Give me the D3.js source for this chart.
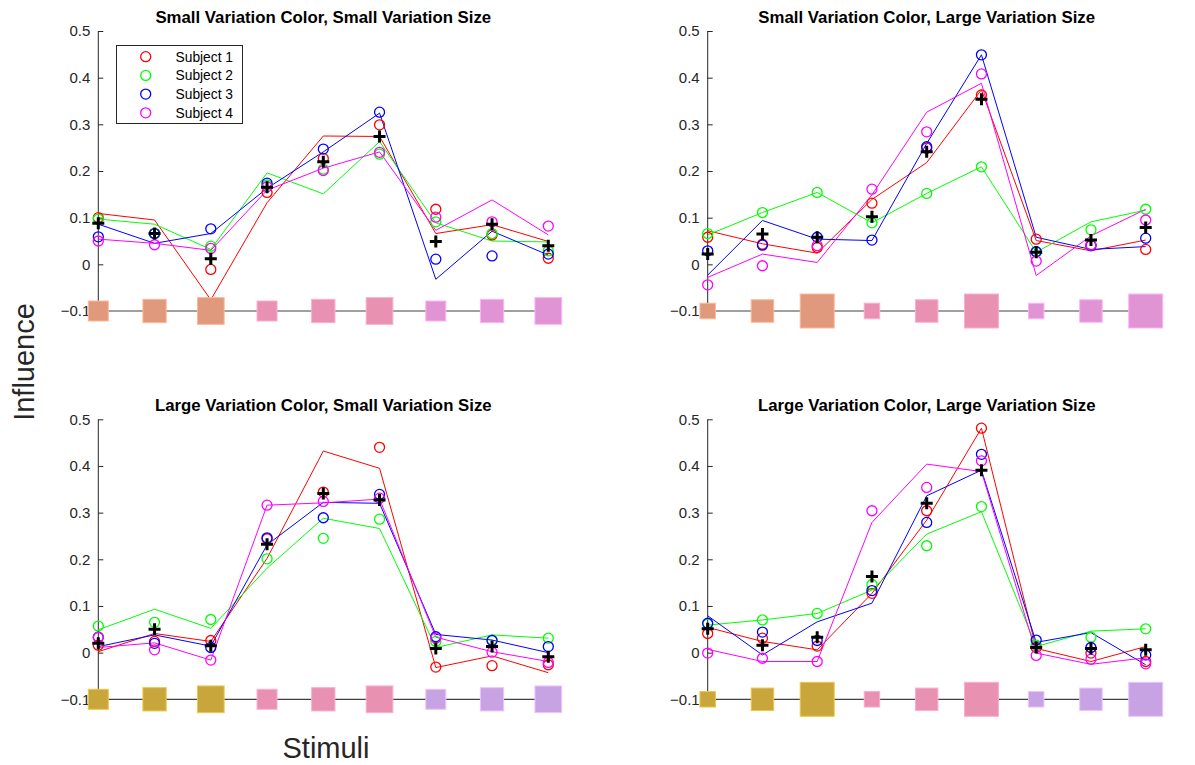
<!DOCTYPE html>
<html>
<head>
<meta charset="utf-8">
<script src="https://cdn.jsdelivr.net/npm/d3@7"></script>
<style>
  html, body { margin: 0; padding: 0; background: #fff; }
  svg { display: block; font-family: "Liberation Sans", Arial, Helvetica, sans-serif; }
</style>
</head>
<body>
<svg id="chart" width="1195" height="765"></svg>
<script>
// ---- data -------------------------------------------------------------
const stimuli = [1, 2, 3, 4, 5, 6, 7, 8, 9];
const subjects = ["Subject 1", "Subject 2", "Subject 3", "Subject 4"];
const yTicks = [-0.1, 0, 0.1, 0.2, 0.3, 0.4, 0.5];
const panelTitles = [
  "Small Variation Color, Small Variation Size",
  "Small Variation Color, Large Variation Size",
  "Large Variation Color, Small Variation Size",
  "Large Variation Color, Large Variation Size"
];

// observed influence per subject (rows) and stimulus (columns)
const obsSmallColorSmallSize = [
  [0.100, 0.066, -0.011, 0.154, 0.227, 0.299, 0.118, 0.063, 0.013],
  [0.097, 0.066, 0.039, 0.170, 0.204, 0.236, 0.091, 0.066, 0.029],
  [0.059, 0.066, 0.076, 0.174, 0.247, 0.326, 0.011, 0.018, 0.022],
  [0.050, 0.042, 0.034, 0.166, 0.201, 0.240, 0.101, 0.091, 0.082]
];
const fitSmallColorSmallSize = [
  [0.109, 0.095, -0.076, 0.132, 0.275, 0.274, 0.066, 0.085, 0.049],
  [0.097, 0.086, 0.032, 0.196, 0.151, 0.263, 0.089, 0.050, 0.048],
  [0.086, 0.045, 0.066, 0.163, 0.241, 0.324, -0.032, 0.071, 0.020],
  [0.054, 0.045, 0.030, 0.159, 0.206, 0.241, 0.073, 0.138, 0.063]
];
const meanSmallColorSmallSize = [0.088, 0.066, 0.012, 0.165, 0.220, 0.274, 0.049, 0.086, 0.040];

const obsSmallColorLargeSize = [
  [0.058, 0.043, 0.036, 0.131, 0.249, 0.363, 0.054, 0.041, 0.032],
  [0.066, 0.111, 0.154, 0.089, 0.152, 0.209, 0.027, 0.074, 0.118],
  [0.029, 0.041, 0.058, 0.052, 0.252, 0.449, 0.027, 0.040, 0.056],
  [-0.044, -0.003, 0.040, 0.161, 0.284, 0.408, 0.007, 0.041, 0.095]
];
const fitSmallColorLargeSize = [
  [0.072, 0.044, 0.024, 0.139, 0.218, 0.374, 0.051, 0.029, 0.052],
  [0.063, 0.111, 0.154, 0.089, 0.152, 0.209, 0.026, 0.091, 0.116],
  [-0.023, 0.094, 0.054, 0.051, 0.259, 0.449, 0.058, 0.032, 0.038],
  [-0.028, 0.022, 0.004, 0.149, 0.326, 0.388, -0.024, 0.061, 0.118]
];
const meanSmallColorLargeSize = [0.022, 0.065, 0.058, 0.102, 0.241, 0.354, 0.026, 0.052, 0.079];

const obsLargeColorSmallSize = [
  [0.016, 0.024, 0.026, 0.244, 0.344, 0.440, -0.031, -0.028, -0.026],
  [0.057, 0.065, 0.071, 0.201, 0.245, 0.286, 0.024, 0.027, 0.031],
  [0.033, 0.020, 0.011, 0.246, 0.289, 0.339, 0.034, 0.026, 0.013],
  [0.033, 0.006, -0.016, 0.316, 0.324, 0.331, 0.031, 0.001, -0.021]
];
const fitLargeColorSmallSize = [
  [0.002, 0.041, 0.024, 0.202, 0.432, 0.395, -0.032, -0.007, -0.043],
  [0.049, 0.093, 0.052, 0.181, 0.288, 0.266, 0.011, 0.038, 0.031],
  [0.013, 0.038, 0.014, 0.231, 0.322, 0.320, 0.039, 0.027, 0.000],
  [0.011, 0.021, -0.016, 0.316, 0.321, 0.329, 0.033, 0.002, -0.019]
];
const meanLargeColorSmallSize = [0.020, 0.050, 0.015, 0.232, 0.341, 0.327, 0.009, 0.013, -0.009];

const obsLargeColorLargeSize = [
  [0.041, 0.031, 0.014, 0.127, 0.304, 0.481, 0.011, -0.001, -0.019],
  [0.061, 0.070, 0.084, 0.146, 0.229, 0.313, 0.016, 0.033, 0.051],
  [0.063, 0.044, 0.026, 0.133, 0.279, 0.425, 0.027, 0.011, -0.005],
  [-0.001, -0.012, -0.019, 0.304, 0.354, 0.411, -0.006, -0.014, -0.024]
];
const fitLargeColorLargeSize = [
  [0.054, 0.024, 0.006, 0.127, 0.284, 0.481, 0.009, -0.019, 0.013],
  [0.059, 0.070, 0.084, 0.134, 0.254, 0.302, 0.013, 0.046, 0.051],
  [0.079, -0.005, 0.066, 0.106, 0.336, 0.391, 0.022, 0.043, -0.026],
  [0.007, -0.019, -0.019, 0.279, 0.404, 0.388, -0.001, -0.025, -0.011]
];
const meanLargeColorLargeSize = [0.051, 0.016, 0.033, 0.163, 0.320, 0.391, 0.011, 0.009, 0.006];

// ---- styling ------------------------------------------------------------
const subjectColors = ["#ff0000", "#00ff00", "#0000ff", "#ff00ff"];
const smallVarColors = ["#e0997c", "#e891b0", "#e094d4"];
const largeVarColors = ["#c8a63c", "#e891b0", "#c8a3e3"];
const smallVarSides = [20, 23.3, 26.7];
const largeVarSides = [15.5, 22.5, 34];
const stimulusLevel = -0.1;

const panels = [
  { title: panelTitles[0], obs: obsSmallColorSmallSize, fit: fitSmallColorSmallSize, mean: meanSmallColorSmallSize,
    colors: smallVarColors, sides: smallVarSides, x0: 98.3, x1: 548.3, yTop: 31, yBot: 311, legend: true, lineColor: "#808080" },
  { title: panelTitles[1], obs: obsSmallColorLargeSize, fit: fitSmallColorLargeSize, mean: meanSmallColorLargeSize,
    colors: smallVarColors, sides: largeVarSides, x0: 707.7, x1: 1145.7, yTop: 31, yBot: 311, legend: false, lineColor: "#808080" },
  { title: panelTitles[2], obs: obsLargeColorSmallSize, fit: fitLargeColorSmallSize, mean: meanLargeColorSmallSize,
    colors: largeVarColors, sides: smallVarSides, x0: 98.3, x1: 548.3, yTop: 419.3, yBot: 699.3, legend: false, lineColor: "#404040" },
  { title: panelTitles[3], obs: obsLargeColorLargeSize, fit: fitLargeColorLargeSize, mean: meanLargeColorLargeSize,
    colors: largeVarColors, sides: largeVarSides, x0: 707.7, x1: 1145.7, yTop: 419.3, yBot: 699.3, legend: false, lineColor: "#404040" }
];

const svg = d3.select("#chart");
const axisColor = "#262626";

// plus-shaped marker for the group mean
const plusShape = {
  draw(ctx) {
    const r = 6;
    ctx.moveTo(-r, 0); ctx.lineTo(r, 0);
    ctx.moveTo(0, -r); ctx.lineTo(0, r);
  }
};

panels.forEach(p => {
  const g = svg.append("g");
  const x = d3.scaleLinear().domain([1, 9]).range([p.x0, p.x1]);
  const y = d3.scaleLinear().domain([-0.1, 0.5]).range([p.yBot, p.yTop]);

  // title
  g.append("text")
    .attr("x", (p.x0 + p.x1) / 2)
    .attr("y", p.yTop - 8)
    .attr("text-anchor", "middle")
    .attr("font-weight", "bold")
    .attr("font-size", 16.8)
    .attr("fill", "#000")
    .text(p.title);

  // y axis with inward ticks
  const yAxis = d3.axisRight(y).tickValues(yTicks).tickSize(5).tickFormat(d3.format("~g"));
  const ax = g.append("g").attr("transform", `translate(${p.x0},0)`).call(yAxis);
  ax.select(".domain").attr("stroke", axisColor).attr("d", `M0,${y(0.5)}V${y(-0.1)}`).attr("stroke-width", 1);
  ax.selectAll(".tick line").attr("stroke", axisColor);
  ax.selectAll(".tick text")
    .attr("x", -8)
    .attr("text-anchor", "end")
    .attr("font-size", 15)
    .attr("fill", axisColor)
    .attr("font-family", "Liberation Sans, Arial, sans-serif");

  // baseline through the stimulus swatches
  g.append("line")
    .attr("x1", p.x0).attr("x2", x(9))
    .attr("y1", y(stimulusLevel)).attr("y2", y(stimulusLevel))
    .attr("stroke", p.lineColor).attr("stroke-width", 1.3);

  // fitted lines per subject
  const line = d3.line().x((d, i) => x(stimuli[i])).y(d => y(d));
  p.fit.forEach((vals, s) => {
    g.append("path")
      .datum(vals)
      .attr("d", line)
      .attr("fill", "none")
      .attr("stroke", subjectColors[s])
      .attr("stroke-width", 1);
  });

  // observed values per subject
  p.obs.forEach((vals, s) => {
    g.selectAll(null)
      .data(vals)
      .enter().append("circle")
      .attr("cx", (d, i) => x(stimuli[i]))
      .attr("cy", d => y(d))
      .attr("r", 5)
      .attr("fill", "none")
      .attr("stroke", subjectColors[s])
      .attr("stroke-width", 1.3);
  });

  // group mean
  g.selectAll(null)
    .data(p.mean)
    .enter().append("path")
    .attr("transform", (d, i) => `translate(${x(stimuli[i])},${y(d)})`)
    .attr("d", d3.symbol().type(plusShape))
    .attr("stroke", "#000")
    .attr("stroke-width", 3)
    .attr("fill", "none");

  // stimulus swatches: colour group x size level
  g.selectAll(null)
    .data(stimuli)
    .enter().append("rect")
    .each(function (d, i) {
      const side = p.sides[i % 3];
      const c = p.colors[Math.floor(i / 3)];
      d3.select(this)
        .attr("x", x(d) - side / 2)
        .attr("y", y(stimulusLevel) - side / 2)
        .attr("width", side)
        .attr("height", side)
        .attr("fill", c)
        .attr("stroke", d3.color(c).brighter(0.5))
        .attr("stroke-width", 1);
    });

  // legend
  if (p.legend) {
    const lg = g.append("g");
    lg.append("rect")
      .attr("x", 116.5).attr("y", 45.5).attr("width", 126).attr("height", 78)
      .attr("fill", "#fff").attr("stroke", axisColor).attr("stroke-width", 1);
    subjects.forEach((name, s) => {
      const cy = 56.7 + s * 18.7;
      lg.append("circle").attr("cx", 145.7).attr("cy", cy).attr("r", 5)
        .attr("fill", "none").attr("stroke", subjectColors[s]).attr("stroke-width", 1.3);
      lg.append("text").attr("x", 175.5).attr("y", cy + 4.8)
        .attr("font-size", 13.8).attr("fill", "#000").text(name);
    });
  }
});

// shared axis labels
svg.append("text")
  .attr("transform", "translate(34,362) rotate(-90)")
  .attr("text-anchor", "middle")
  .attr("font-size", 29)
  .attr("fill", axisColor)
  .text("Influence");

svg.append("text")
  .attr("x", 326)
  .attr("y", 758)
  .attr("text-anchor", "middle")
  .attr("font-size", 29)
  .attr("fill", axisColor)
  .text("Stimuli");
</script>
</body>
</html>
